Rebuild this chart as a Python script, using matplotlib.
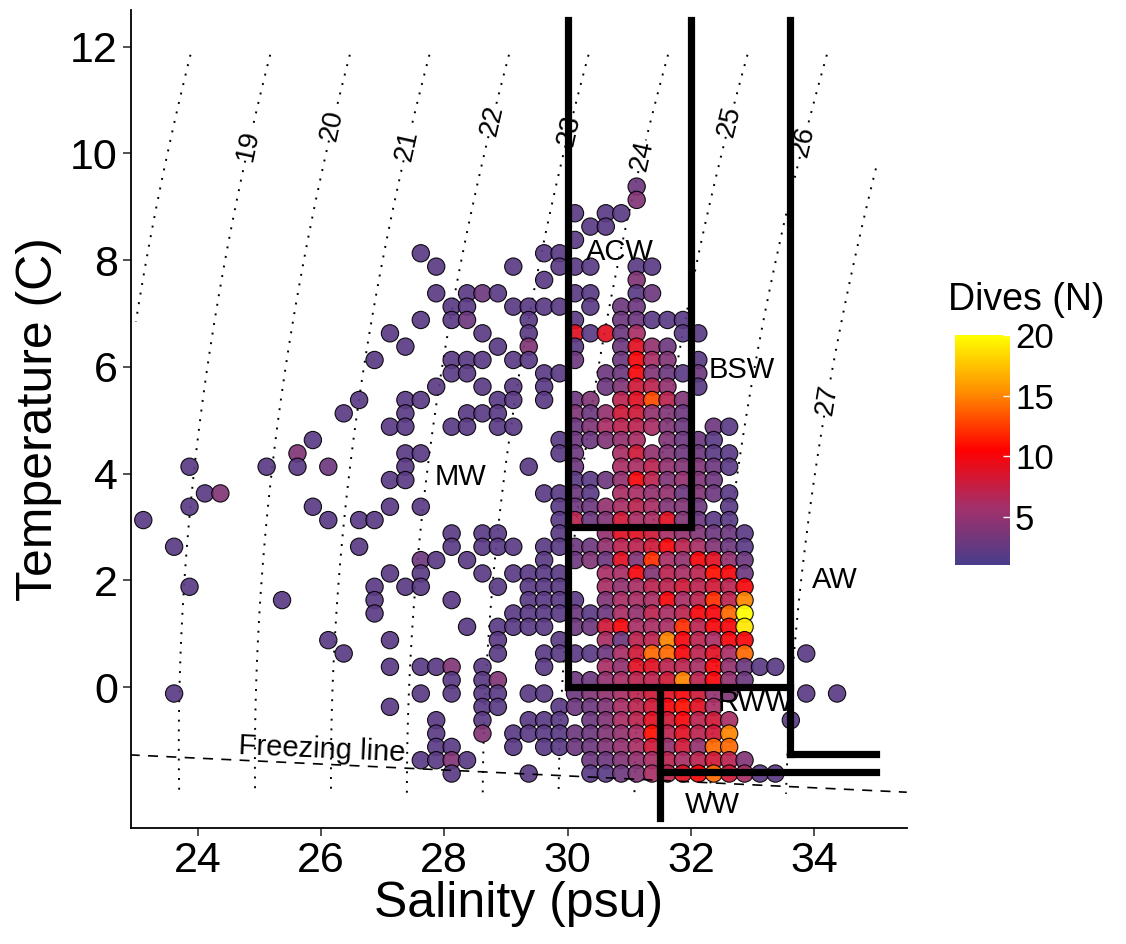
import numpy as np
import matplotlib.pyplot as plt
from matplotlib.colors import LinearSegmentedColormap

plt.rcParams['font.family'] = ['Liberation Sans', 'DejaVu Sans']

# dive counts on a 0.25 psu x 0.25 C grid
# one string per temperature row (warmest first), one char per salinity column
# '.' = no dives, 1-9, then a=10 ... k=20
sal_start = 23.12
temp_top = 9.38
step = 0.25
rows = [
    "..... ..... ..... ..... ..... ..... ..3.. ..... ..... .....",
    "..... ..... ..... ..... ..... ..... ..4.. ..... ..... .....",
    "..... ..... ..... ..... ..... ...2. 22... ..... ..... .....",
    "..... ..... ..... ..... ..... ....2 2.... ..... ..... .....",
    "..... ..... ..... ..... ..... ...2. ..... ..... ..... .....",
    "..... ..... ..... ...2. ..... .22.. ..... ..... ..... .....",
    "..... ..... ..... ....2 ....2 ..222 ..22. ..... ..... .....",
    "..... ..... ..... ..... ..... .2... ..4.. ..... ..... .....",
    "..... ..... ..... ....2 .232. ...22 ..23. ..... ..... .....",
    "..... ..... ..... ..... 22..2 222.2 .33.. ..... ..... .....",
    "..... ..... ..... ...2. 23... 2..2. .3322 2.... ..... .....",
    "..... ..... ..... .2... ..2.. 2..92 936.. 22... ..... .....",
    "..... ..... ..... ..2.. ...2. 4..2. .3953 ..... ..... .....",
    "..... ..... ..... 2.... 222.2 2..3. .3a64 .2... ..... .....",
    "..... ..... ..... ..... 22... .22.. 33a43 23... ..... .....",
    "..... ..... ..... ....2 ..2.2 .2... 34875 .2... ..... .....",
    "..... ..... ....2 ..22. ...22 .2.34 .79d7 4.... ..... .....",
    "..... ..... ...2. ..2.. .222. ...43 58854 3.... ..... .....",
    "..... ..... ..... .22.. 22.22 ...34 67764 3.32. ..... .....",
    "..... ..... .2... ..... ..... ..233 456.4 332.. ..... .....",
    "..... ..... 4.... ..22. ..... ..23. .6854 3322. ..... .....",
    "...2. ...2. 2.3.. ..2.. ..... 2..3. .6675 4432. ..... .....",
    "..... ..... ..... .22.. ..... ...22 35a74 543.. ..... .....",
    "....2 4.... ..... ..... ..... .2232 .6655 3432. ..... .....",
    "...2. ..... .2... .2.2. ..... ..233 56764 43.2. ..... .....",
    "2.... ..... ..2.2 2.... ..... ..273 48669 4322. ..... .....",
    "..... ..... ..... ..... 2.22. ..2.. 59986 54332 ..... .....",
    "..2.. ..... ....2 ..... 2.222 .2233 5778a 76432 ..... .....",
    "..... ..... ..... ...32 .2... .2.34 394c6 5a953 ..... .....",
    "..... ..... ..... .2.2. ..2.2 222.. 66a47 67ba3 ..... .....",
    "...2. ..... ..... 2.22. ...2. 222.. 65677 8787a ..... .....",
    "..... ....2 ..... 2.... 2.... 2222. 4666a 67c7f ..... .....",
    "..... ..... ..... 2.... ....2 22232 36576 7aaek ..... .....",
    "..... ..... ..... ..... .2.22 22.33 8a666 c7aaj ..... .....",
    "..... ..... ..2.. .2... ...2. ..2.. 6377f a76aa ..... .....",
    "..... ..... ...2. ..... ...2. .2222 368ee a796e ...2. .....",
    "..... ..... ..... .2.22 4.2.. .2... 65997 76a53 22... .....",
    "..... ..... ..... ..... 2.24. ...33 56778 f7a53 ..... .....",
    "..2.. ..... ..... ...2. 2.22. 22.34 56789 a854. ...2. 2....",
    "..... ..... ..... .2... ..22. ..233 4678a b96.. ..... .....",
    "..... ..... ..... ....2 ..2.. 222.3 46798 a786. ..2.. .....",
    "..... ..... ..... ....2 ..4.2 22233 456b7 978f. ..... .....",
    "..... ..... ..... ....2 2...2 .2233 45685 85ee. ..... .....",
    "..... ..... ..... ...22 42... ....3 34567 67874 ..... .....",
    "..... ..... ..... ..... 2.... 2...2 23467 9ae86 22... .....",
]

sal, temp, dives = [], [], []
for r, row in enumerate(rows):
    for c, ch in enumerate(row.replace(' ', '')):
        if ch != '.':
            sal.append(sal_start + step * c)
            temp.append(temp_top - step * r)
            dives.append(int(ch, 36))

# isopycnals (18 is drawn but not labelled)
sigma_levels = [18, 19, 20, 21, 22, 23, 24, 25, 26, 27]
label_pos = [(24.85, 10.15), (26.23, 10.52), (27.44, 10.15), (28.74, 10.62),
             (30.04, 10.43), (31.2, 9.96), (32.55, 10.62), (33.76, 10.24),
             (34.25, 5.37)]

# water mass boundaries
bound_s = [[30, 30], [30, 32], [32, 32], [30, 33.6], [33.6, 33.6],
           [33.6, 35], [31.5, 35], [31.5, 31.5]]
bound_t = [[12.5, 0], [3, 3], [12.5, 3], [0, 0], [12.5, -1.26],
           [-1.26, -1.26], [-1.6, -1.6], [0, -2.45]]

mass_names = ['ACW', 'BSW', 'MW', 'AW', 'RWW', 'WW']
mass_s = [30.85, 32.83, 28.26, 34.34, 33.04, 32.34]
mass_t = [8.15, 5.94, 3.93, 2.0, -0.30, -2.21]

freeze_s = [22.9, 35.5]
freeze_t = [-1.27, -1.97]


def sigma_t(S, T):
    rho_w = (999.842594 + 6.793952e-2 * T - 9.095290e-3 * T**2
             + 1.001685e-4 * T**3 - 1.120083e-6 * T**4 + 6.536332e-9 * T**5)
    A = 8.24493e-1 - 4.0899e-3 * T + 7.6438e-5 * T**2 - 8.2467e-7 * T**3 + 5.3875e-9 * T**4
    B = -5.72466e-3 + 1.0227e-4 * T - 1.6546e-6 * T**2
    C = 4.8314e-4
    return rho_w + A * S + B * S**1.5 + C * S**2 - 1000.0


fig = plt.figure(figsize=(11.26, 9.44), dpi=100)
ax = fig.add_axes([0.1163, 0.1229, 0.689, 0.866])

gs, gt = np.meshgrid(np.linspace(23.0, 35.0, 300), np.linspace(-2.0, 11.85, 300))
cs = ax.contour(gs, gt, sigma_t(gs, gt), levels=sigma_levels, colors='black',
                linewidths=1.4, linestyles=[(0, (1, 4))], zorder=1)
ax.clabel(cs, manual=label_pos, inline=True, inline_spacing=2,
          fontsize=20, fmt='%d')

cmap = LinearSegmentedColormap.from_list(
    'dives', ['#483D8B', '#A3306A', '#FF0000', '#FF8C00', '#FFFF00'])
sc = ax.scatter(sal, temp, c=dives, cmap=cmap, vmin=1, vmax=20, s=155,
                edgecolors='black', linewidths=0.8, alpha=0.92, zorder=2)

ax.plot(freeze_s, freeze_t, color='black', linestyle=(0, (6, 5)), linewidth=1.2, zorder=3)
ax.text(26.02, -1.18, 'Freezing line', fontsize=21, ha='center', va='center',
        rotation=-2.5, zorder=4)

for s_, t_ in zip(bound_s, bound_t):
    ax.plot(s_, t_, color='black', linewidth=5.2, solid_capstyle='projecting', zorder=5)

for name, s_, t_ in zip(mass_names, mass_s, mass_t):
    ax.text(s_, t_, name, fontsize=21, ha='center', va='center', zorder=4)

ax.set_xlim(22.92, 35.5)
ax.set_ylim(-2.64, 12.68)
ax.set_xticks([24, 26, 28, 30, 32, 34])
ax.set_yticks([0, 2, 4, 6, 8, 10, 12])
ax.tick_params(labelsize=31, length=6, width=1.2, color='#333333')
for side in ['top', 'right']:
    ax.spines[side].set_visible(False)
for side in ['left', 'bottom']:
    ax.spines[side].set_linewidth(1.3)
ax.set_xlabel('Salinity (psu)', fontsize=36, labelpad=0)
ax.set_ylabel('Temperature (C)', fontsize=36, labelpad=6)

cax = fig.add_axes([0.848, 0.4015, 0.049, 0.2436])
cb = fig.colorbar(sc, cax=cax, ticks=[5, 10, 15, 20])
cb.outline.set_visible(False)
cb.solids.set_alpha(1)
cax.tick_params(labelsize=25, length=5, direction='in', color='white', width=1)
fig.text(0.842, 0.682, 'Dives (N)', fontsize=27, ha='left', va='center')

fig.savefig('out.png', dpi=100)
